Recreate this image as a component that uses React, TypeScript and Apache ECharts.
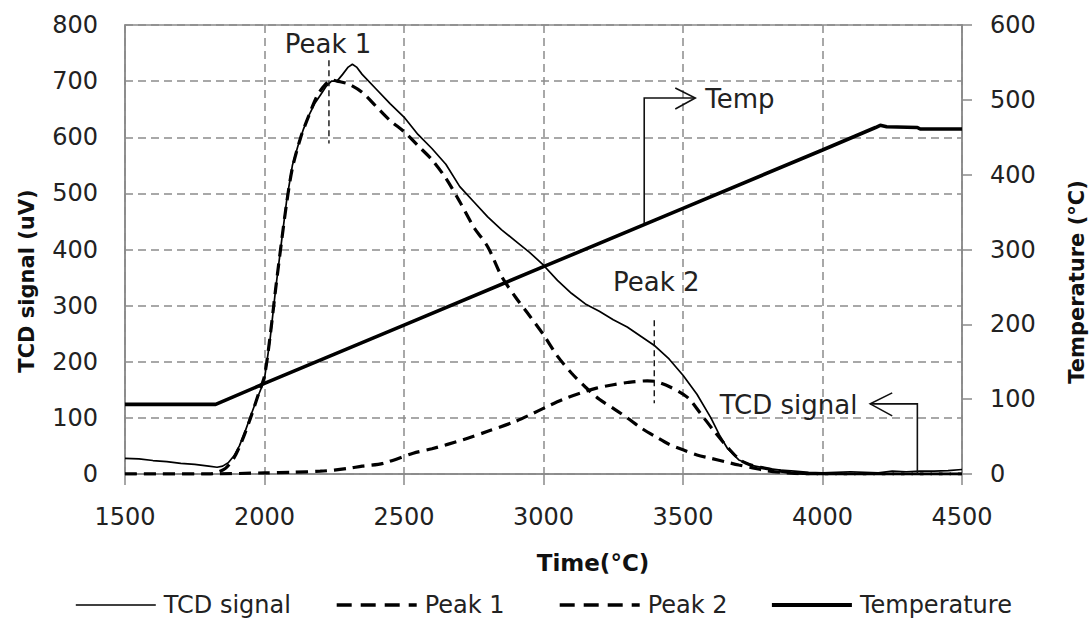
import React, { useEffect, useRef } from "react";
import * as echarts from "echarts";

// ---- data (time, value) ----
const xTicks = [1500, 2000, 2500, 3000, 3500, 4000, 4500];

const tcdTime = [1500, 1550, 1600, 1650, 1700, 1750, 1800, 1830, 1850, 1870, 1890, 1910, 1930, 1950, 1970, 1990, 2000, 2020, 2040, 2060, 2080, 2100, 2120, 2140, 2160, 2180, 2200, 2220, 2240, 2260, 2280, 2300, 2315, 2330, 2350, 2400, 2450, 2500, 2550, 2600, 2650, 2700, 2750, 2800, 2850, 2900, 2950, 3000, 3050, 3100, 3150, 3200, 3250, 3300, 3350, 3400, 3450, 3500, 3550, 3600, 3630, 3660, 3700, 3750, 3800, 3850, 3900, 3950, 4000, 4050, 4100, 4150, 4200, 4250, 4300, 4350, 4400, 4450, 4500];
const tcdValue = [28, 27, 24, 22, 19, 17, 14, 12, 14, 20, 32, 50, 75, 103, 130, 155, 170, 240, 330, 410, 490, 550, 585, 615, 640, 660, 675, 690, 700, 700, 712, 725, 730, 725, 712, 686, 660, 636, 605, 580, 552, 512, 485, 458, 435, 415, 395, 372, 345, 322, 303, 290, 275, 262, 245, 228, 205, 176, 142, 100, 70, 45, 25, 15, 10, 7, 5, 3, 2, 3, 4, 3, 2, 5, 4, 5, 5, 6, 8];

const peak1Time = [1500, 1800, 1830, 1860, 1890, 1920, 1950, 1980, 2000, 2020, 2040, 2060, 2080, 2100, 2130, 2160, 2190, 2220, 2240, 2260, 2300, 2350, 2400, 2450, 2500, 2550, 2600, 2650, 2700, 2750, 2800, 2850, 2900, 2950, 3000, 3050, 3100, 3150, 3200, 3250, 3300, 3350, 3400, 3450, 3500, 3550, 3600, 3650, 3700, 3750, 3800, 3850, 3900, 4000, 4500];
const peak1Value = [0, 0, 3, 10, 28, 60, 100, 145, 175, 245, 330, 410, 485, 545, 600, 640, 675, 695, 702, 700, 695, 680, 655, 630, 610, 585, 560, 527, 485, 440, 405, 352, 315, 282, 248, 210, 180, 155, 133, 117, 100, 82, 67, 53, 43, 34, 28, 22, 16, 11, 6, 3, 1, 0, 0];

const peak2Time = [1500, 1800, 2000, 2100, 2200, 2250, 2300, 2350, 2425, 2533, 2600, 2712, 2800, 2891, 2950, 3012, 3070, 3131, 3190, 3250, 3300, 3372, 3400, 3454, 3515, 3561, 3609, 3659, 3705, 3750, 3787, 3850, 3900, 4000, 4500];
const peak2Value = [0, 0, 2, 3, 5, 7, 10, 14, 19, 37, 45, 61, 76, 92, 105, 120, 133, 144, 153, 159, 163, 166, 165, 155, 137, 109, 78, 48, 25, 15, 11, 5, 2, 0, 0];

const tempTime = [1500, 1825, 2000, 2500, 3000, 3500, 4000, 4190, 4207, 4230, 4340, 4350, 4500];
const tempValue = [93, 93, 121, 199, 277, 355, 433, 463, 466, 464, 463, 461, 461];

const seriesNames = ["TCD signal", "Peak 1", "Peak 2", "Temperature"];

const zip = (a: number[], b: number[]) => a.map((t, i) => [t, b[i]]);

const FONT = "DejaVu Sans";
const TXT = "#222";

export default function App() {
  const ref = useRef<HTMLDivElement>(null);

  useEffect(() => {
    if (!ref.current) return;
    const chart = echarts.init(ref.current, undefined, { renderer: "svg" });

    const dashed = [12, 7];
    const legendLefts = [70, 330, 553, 765];
    const legendLines = [
      { color: "#000", width: 1.6, type: "solid" },
      { color: "#000", width: 3.4, type: [15, 9] },
      { color: "#000", width: 3.4, type: [15, 9] },
      { color: "#000", width: 3.8, type: "solid" },
    ];
    const plain = (v: number) => String(v);

    const option: any = {
      animation: false,
      backgroundColor: "#fff",
      grid: {
        left: 125,
        right: 130,
        top: 25,
        bottom: 145,
        show: true,
        borderColor: "#8a8a8a",
        borderWidth: 1.5,
      },
      legend: seriesNames.map((n, i) => ({
        data: [n],
        left: legendLefts[i],
        top: 588,
        itemWidth: 80,
        itemHeight: 14,
        itemStyle: { color: "transparent", borderWidth: 0, opacity: 0 },
        lineStyle: legendLines[i],
        textStyle: { fontFamily: FONT, fontSize: 24, color: TXT, padding: [0, 0, 0, 3] },
      })),
      xAxis: {
        type: "value",
        min: xTicks[0],
        max: xTicks[xTicks.length - 1],
        interval: 500,
        axisLine: { lineStyle: { color: "#8a8a8a", width: 1.5 } },
        axisTick: { show: true, inside: false, length: 11, lineStyle: { color: "#8a8a8a", width: 1.5 } },
        axisLabel: { fontFamily: FONT, fontSize: 24, color: TXT, margin: 31, formatter: plain },
        splitLine: { show: true, lineStyle: { color: "#8c8c8c", type: [8, 5], width: 1.5 } },
      },
      yAxis: [
        {
          type: "value",
          min: 0,
          max: 800,
          interval: 100,
          axisLine: { show: true, lineStyle: { color: "#8a8a8a", width: 1.5 } },
          axisTick: { show: false },
          axisLabel: { fontFamily: FONT, fontSize: 24, color: TXT, margin: 27, formatter: plain },
          splitLine: { show: true, lineStyle: { color: "#8c8c8c", type: [8, 5], width: 1.5 } },
        },
        {
          type: "value",
          min: 0,
          max: 600,
          interval: 100,
          position: "right",
          axisLine: { show: true, lineStyle: { color: "#8a8a8a", width: 1.5 } },
          axisTick: { show: true, inside: false, length: 10, lineStyle: { color: "#8a8a8a", width: 1.5 } },
          axisLabel: { fontFamily: FONT, fontSize: 24, color: TXT, margin: 28, formatter: plain },
          splitLine: { show: false },
        },
      ],
      series: [
        {
          name: seriesNames[0],
          type: "line",
          data: zip(tcdTime, tcdValue),
          symbol: "none",
          lineStyle: { color: "#000", width: 1.7 },
          itemStyle: { color: "#000" },
          z: 4,
        },
        {
          name: seriesNames[1],
          type: "line",
          data: zip(peak1Time, peak1Value),
          symbol: "none",
          smooth: 0.3,
          lineStyle: { color: "#000", width: 3.2, type: dashed },
          itemStyle: { color: "#000" },
          z: 3,
        },
        {
          name: seriesNames[2],
          type: "line",
          data: zip(peak2Time, peak2Value),
          symbol: "none",
          smooth: 0.3,
          lineStyle: { color: "#000", width: 3.2, type: dashed },
          itemStyle: { color: "#000" },
          z: 3,
        },
        {
          name: seriesNames[3],
          type: "line",
          yAxisIndex: 1,
          data: zip(tempTime, tempValue),
          symbol: "none",
          lineStyle: { color: "#000", width: 3.6 },
          itemStyle: { color: "#000" },
          z: 5,
        },
      ],
    };

    chart.setOption(option);

    const P = (t: number, v: number) =>
      chart.convertToPixel({ xAxisIndex: 0, yAxisIndex: 0 }, [t, v]) as number[];
    const PT = (t: number, v: number) =>
      chart.convertToPixel({ xAxisIndex: 0, yAxisIndex: 1 }, [t, v]) as number[];

    const lineStyle = { stroke: "#111", lineWidth: 1.6 };
    const dashStyle = { stroke: "#111", lineWidth: 1.4, lineDash: [6, 4] };
    const annFont = { fontFamily: FONT, fontSize: 26, fill: TXT };

    // Peak 1
    const p1Top = P(2231, 737);
    const p1Bot = P(2231, 589);
    const p1Txt = P(2228, 766);
    // Peak 2
    const p2Top = P(3397, 274);
    const p2Bot = P(3397, 126);
    const p2Txt = P(3404, 342);
    // Temp arrow
    const tStart = PT(3361, 335);
    const tCorner = P(3361, 670);
    const tTip = P(3544, 670);
    const tTxt = P(3580, 668);
    // TCD signal arrow
    const cStart = P(4340, 0);
    const cCorner = P(4340, 125);
    const cTip = P(4171, 125);
    const cTxt = P(4125, 123);

    const graphic: any[] = [
      { type: "line", shape: { x1: p1Top[0], y1: p1Top[1], x2: p1Bot[0], y2: p1Bot[1] }, style: dashStyle, z: 10 },
      { type: "text", x: p1Txt[0], y: p1Txt[1], style: { ...annFont, text: "Peak 1", align: "center", verticalAlign: "middle" }, z: 10 },
      { type: "line", shape: { x1: p2Top[0], y1: p2Top[1], x2: p2Bot[0], y2: p2Bot[1] }, style: dashStyle, z: 10 },
      { type: "text", x: p2Txt[0], y: p2Txt[1], style: { ...annFont, text: "Peak 2", align: "center", verticalAlign: "middle" }, z: 10 },
      {
        type: "polyline",
        shape: { points: [tStart, tCorner, tTip] },
        style: { ...lineStyle, fill: "none" },
        z: 10,
      },
      {
        type: "polyline",
        shape: { points: [[tTip[0] - 20, tTip[1] - 10], tTip, [tTip[0] - 20, tTip[1] + 11]] },
        style: { ...lineStyle, fill: "none" },
        z: 10,
      },
      { type: "text", x: tTxt[0], y: tTxt[1], style: { ...annFont, text: "Temp", align: "left", verticalAlign: "middle" }, z: 10 },
      {
        type: "polyline",
        shape: { points: [cStart, cCorner, cTip] },
        style: { ...lineStyle, fill: "none" },
        z: 10,
      },
      {
        type: "polyline",
        shape: { points: [[cTip[0] + 22, cTip[1] - 11], cTip, [cTip[0] + 22, cTip[1] + 12]] },
        style: { ...lineStyle, fill: "none" },
        z: 10,
      },
      { type: "text", x: cTxt[0], y: cTxt[1], style: { ...annFont, text: "TCD signal", align: "right", verticalAlign: "middle" }, z: 10 },
      // axis titles
      {
        type: "text",
        x: 27,
        y: 281,
        rotation: Math.PI / 2,
        style: { text: "TCD signal (uV)", fontFamily: FONT, fontSize: 21, fontWeight: "bold", fill: "#111", align: "center", verticalAlign: "middle" },
      },
      {
        type: "text",
        x: 1077,
        y: 282,
        rotation: Math.PI / 2,
        style: { text: "Temperature (°C)", fontFamily: FONT, fontSize: 21, fontWeight: "bold", fill: "#111", align: "center", verticalAlign: "middle" },
      },
      {
        type: "text",
        x: 593,
        y: 563,
        style: { text: "Time(°C)", fontFamily: FONT, fontSize: 23, fontWeight: "bold", fill: "#111", align: "center", verticalAlign: "middle" },
      },
    ];

    chart.setOption({ graphic });

    return () => chart.dispose();
  }, []);

  return (
    <div
      ref={ref}
      style={{ position: "absolute", left: 0, top: 0, width: 1092, height: 619, background: "#fff" }}
    />
  );
}
